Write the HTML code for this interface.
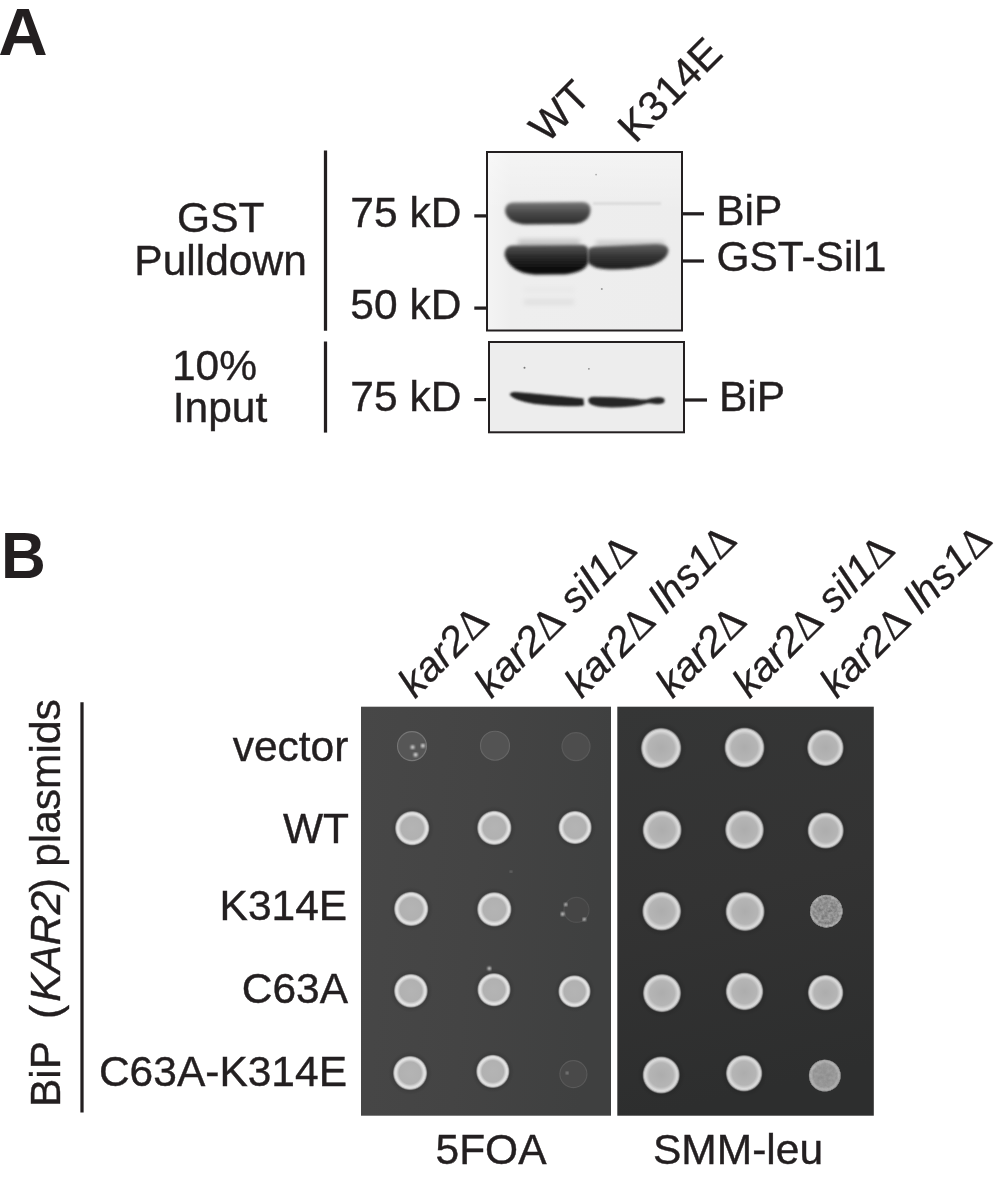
<!DOCTYPE html>
<html><head><meta charset="utf-8"><title>Figure</title>
<style>
html,body{margin:0;padding:0;background:#fff;}
body{width:1004px;height:1179px;overflow:hidden;}
svg{display:block;}
text{font-family:"Liberation Sans",sans-serif;font-size:42.5px;fill:#231f20;stroke:#231f20;stroke-width:0.4px;}
.b{font-weight:bold;font-size:64px;stroke:none;}
.i{font-style:italic;}
.r{font-size:41.5px;stroke-width:0.3px;}
.d{font-family:"Liberation Serif",serif;font-style:normal;font-size:42px;}
.ln{stroke:#231f20;stroke-width:3.25;}
</style></head><body>
<svg width="1004" height="1179" viewBox="0 0 1004 1179">
<rect width="1004" height="1179" fill="#fff"/>
<!-- PANEL A -->
<text class="b" transform="translate(-1.8,54.7) scale(1.07,1.03)">A</text>
<text text-anchor="middle" x="220.8" y="232">GST</text>
<text text-anchor="middle" x="220.6" y="274.8">Pulldown</text>
<text text-anchor="middle" x="214.5" y="379.8">10%</text>
<text text-anchor="middle" x="220" y="422.2">Input</text>
<line class="ln" x1="325.5" y1="150.4" x2="325.5" y2="330.8"/>
<line class="ln" x1="325.5" y1="341.5" x2="325.5" y2="432.6"/>
<text x="350.3" y="227.1">75 kD</text>
<text x="350.3" y="318.5">50 kD</text>
<text x="350.3" y="410.8">75 kD</text>
<line class="ln" x1="474.3" y1="215.9" x2="486" y2="215.9"/>
<line class="ln" x1="474.3" y1="308.1" x2="486" y2="308.1"/>
<line class="ln" x1="474.3" y1="399.6" x2="486" y2="399.6"/>
<line class="ln" x1="683" y1="213.8" x2="704" y2="213.8"/>
<line class="ln" x1="683" y1="261" x2="704" y2="261"/>
<line class="ln" x1="685" y1="400" x2="707" y2="400"/>
<text x="716.2" y="224.6">BiP</text>
<text x="716.4" y="271.4">GST-Sil1</text>
<text x="719" y="411.1">BiP</text>
<text class="r" style="font-size:42px" transform="translate(546.8,144.4) rotate(-45)">WT</text>
<text class="r" style="font-size:42px" transform="translate(635.3,144.4) rotate(-45)">K314E</text>
<!-- gels -->
<defs>
<filter id="bl1" x="-20%" y="-50%" width="140%" height="200%"><feGaussianBlur stdDeviation="1.4"/></filter>
<filter id="bl2" x="-20%" y="-80%" width="140%" height="260%"><feGaussianBlur stdDeviation="2.5"/></filter>
<filter id="bl3" x="-20%" y="-80%" width="140%" height="260%"><feGaussianBlur stdDeviation="0.9"/></filter>
<linearGradient id="gb1" x1="0" y1="0" x2="0" y2="1"><stop offset="0" stop-color="#787878"/><stop offset="0.45" stop-color="#4a4a4a"/><stop offset="1" stop-color="#2c2c2c"/></linearGradient>
<linearGradient id="gb2" x1="0" y1="0" x2="0" y2="1"><stop offset="0" stop-color="#555"/><stop offset="0.4" stop-color="#2a2a2a"/><stop offset="0.8" stop-color="#0c0c0c"/><stop offset="1" stop-color="#161616"/></linearGradient>
<linearGradient id="gb3" x1="0" y1="0" x2="0" y2="1"><stop offset="0" stop-color="#606060"/><stop offset="0.5" stop-color="#333"/><stop offset="1" stop-color="#1c1c1c"/></linearGradient>
<linearGradient id="gbg1" x1="0" y1="0" x2="1" y2="0"><stop offset="0" stop-color="#f4f4f4"/><stop offset="0.12" stop-color="#eeeeee"/><stop offset="1" stop-color="#ededed"/></linearGradient>
<linearGradient id="gtop" x1="0" y1="0" x2="0" y2="1"><stop offset="0" stop-color="#fff" stop-opacity="0.35"/><stop offset="1" stop-color="#fff" stop-opacity="0"/></linearGradient>
<clipPath id="c1"><rect x="487" y="152" width="195" height="178.5"/></clipPath>
<clipPath id="c2"><rect x="489" y="342" width="195" height="90.3"/></clipPath>
</defs>
<rect x="487" y="152" width="195" height="178.5" fill="url(#gbg1)"/>
<g clip-path="url(#c1)">
<rect x="487" y="152" width="195" height="60" fill="url(#gtop)"/>
<rect x="518" y="239.5" width="62" height="8" fill="#c2c2c2" filter="url(#bl2)"/>
<rect x="596" y="241" width="68" height="5" fill="#c4c4c4" filter="url(#bl2)"/>
<rect x="524" y="287.5" width="50" height="5" fill="#e8e8e8" filter="url(#bl2)"/>
<rect x="524" y="299.5" width="50" height="5" fill="#dedede" filter="url(#bl2)"/>
<rect x="593" y="202.2" width="68" height="2.6" fill="#d9d9d9" filter="url(#bl3)"/>
<path d="M505,211 Q505,203 513,202.5 L583,202 Q590.5,202.5 590.5,210 Q590,222 575,224 L525,224.5 Q507,223 505,211 Z" fill="url(#gb1)" filter="url(#bl1)"/>
<path d="M504.5,255 Q504.5,246 512,245.5 L583,245 Q588.5,245.5 588.5,252 L588.5,262 Q586,272 565,274.5 L535,274.8 Q510,273 504.5,255 Z" fill="url(#gb2)" filter="url(#bl1)"/>
<path d="M588,250 Q589,247 595,246.5 L655,244 Q668,243.5 668.5,250 Q668,260 650,266 Q630,270 610,269.5 Q592,269 588,262 Z" fill="url(#gb3)" filter="url(#bl1)"/>
<circle cx="596.1" cy="174.6" r="0.9" fill="#aaa"/><circle cx="601.8" cy="289" r="1" fill="#999"/>
</g>
<rect x="487" y="152" width="195" height="178.5" fill="none" stroke="#231f20" stroke-width="2"/>
<rect x="489" y="342" width="195" height="90.3" fill="#ededed"/>
<g clip-path="url(#c2)">
<path d="M509.6,394.6 Q511,391.6 515.5,392 Q530,393 545.7,394.8 Q565,396.5 583.5,398.6 L584,405.4 Q576,406.6 567.6,406.3 Q550,406 534.8,404 Q524,402.5 517,399.6 Q511,397 509.6,394.6 Z" fill="#222" filter="url(#bl3)"/>
<path d="M588.3,399.3 Q589.5,396.6 594,396.8 Q615,397 633.4,398.4 Q642,399.6 646.5,399.6 Q651,398 655.3,397.5 Q661,397 664,398.4 Q665.5,401 663.5,403 Q661,404.6 655,404 Q650,403 646.5,403.5 Q640,405.5 633.4,406.2 Q615,408 602.7,407.1 Q592,406 589.2,403 Q588,401 588.3,399.3 Z" fill="#262626" filter="url(#bl3)"/>
<circle cx="524.5" cy="367.7" r="1" fill="#777"/><circle cx="588.9" cy="368.8" r="0.9" fill="#8a8a8a"/>
</g>
<rect x="489" y="342" width="195" height="90.3" fill="none" stroke="#231f20" stroke-width="2"/>
<!-- PANEL B -->
<text class="b" transform="translate(1,577.9) scale(0.97,1.01)">B</text>
<line class="ln" x1="82" y1="702.2" x2="82" y2="1112.4"/>
<text transform="translate(59.9,1107) rotate(-90)" xml:space="preserve">BiP  <tspan dx="-1">(</tspan><tspan class="i" dx="3">KAR2</tspan><tspan dx="-1.5">)</tspan><tspan dx="-0.5"> plasmids</tspan></text>
<text text-anchor="end" x="348.4" y="760.7">vector</text>
<text text-anchor="end" x="349" y="842.9">WT</text>
<text text-anchor="end" x="347.2" y="920">K314E</text>
<text text-anchor="end" x="348" y="1002.6">C63A</text>
<text text-anchor="end" x="347" y="1085.6">C63A-K314E</text>
<!--PLATES-->
<defs>
<linearGradient id="pl1" x1="0" y1="0" x2="1" y2="0.15"><stop offset="0" stop-color="#474747"/><stop offset="0.5" stop-color="#444444"/><stop offset="1" stop-color="#3f4040"/></linearGradient>
<linearGradient id="pl2" x1="0" y1="0" x2="0.15" y2="1"><stop offset="0" stop-color="#353636"/><stop offset="0.5" stop-color="#333333"/><stop offset="1" stop-color="#2d2e2e"/></linearGradient>
<radialGradient id="colA"><stop offset="0" stop-color="#b4b4b4"/><stop offset="0.62" stop-color="#b1b1b1"/><stop offset="0.71" stop-color="#cccccc"/><stop offset="0.79" stop-color="#e3e3e3"/><stop offset="0.86" stop-color="#dadada"/><stop offset="0.915" stop-color="#a8a8a8" stop-opacity="0.95"/><stop offset="0.96" stop-color="#666" stop-opacity="0.6"/><stop offset="1" stop-color="#333" stop-opacity="0"/></radialGradient>
<radialGradient id="colB"><stop offset="0" stop-color="#adadad"/><stop offset="0.62" stop-color="#b5b5b5"/><stop offset="0.72" stop-color="#c8c8c8"/><stop offset="0.8" stop-color="#dadada"/><stop offset="0.865" stop-color="#cecece"/><stop offset="0.92" stop-color="#939393" stop-opacity="0.95"/><stop offset="0.96" stop-color="#555" stop-opacity="0.55"/><stop offset="1" stop-color="#2a2a2a" stop-opacity="0"/></radialGradient>
<radialGradient id="halo"><stop offset="0.6" stop-color="#000" stop-opacity="0.22"/><stop offset="1" stop-color="#000" stop-opacity="0"/></radialGradient>
<radialGradient id="colC"><stop offset="0" stop-color="#8c8c8c"/><stop offset="0.75" stop-color="#909090"/><stop offset="0.9" stop-color="#a6a6a6"/><stop offset="0.96" stop-color="#8a8a8a" stop-opacity="0.9"/><stop offset="1" stop-color="#333" stop-opacity="0"/></radialGradient>
<filter id="grain" x="-5%" y="-5%" width="110%" height="110%" color-interpolation-filters="sRGB"><feTurbulence type="fractalNoise" baseFrequency="0.32" numOctaves="2" seed="7" result="n"/><feColorMatrix in="n" type="matrix" values="1 0 0 0 0 1 0 0 0 0 1 0 0 0 0 0 0 0 0 1" result="g"/><feComposite in="SourceGraphic" in2="g" operator="arithmetic" k1="0" k2="1" k3="0.3" k4="-0.15" result="m"/><feComposite in="m" in2="SourceGraphic" operator="in"/></filter>
<radialGradient id="colD"><stop offset="0" stop-color="#939393"/><stop offset="0.7" stop-color="#989898"/><stop offset="0.83" stop-color="#b0b0b0"/><stop offset="0.91" stop-color="#a4a4a4"/><stop offset="0.96" stop-color="#808080" stop-opacity="0.85"/><stop offset="1" stop-color="#333" stop-opacity="0"/></radialGradient>
<filter id="grain2" x="-5%" y="-5%" width="110%" height="110%" color-interpolation-filters="sRGB"><feTurbulence type="fractalNoise" baseFrequency="0.3" numOctaves="2" seed="11" result="n"/><feColorMatrix in="n" type="matrix" values="1 0 0 0 0 1 0 0 0 0 1 0 0 0 0 0 0 0 0 1" result="g"/><feComposite in="SourceGraphic" in2="g" operator="arithmetic" k1="0" k2="1" k3="0.1" k4="-0.05" result="m"/><feComposite in="m" in2="SourceGraphic" operator="in"/></filter>
<filter id="sb2" x="-20%" y="-20%" width="140%" height="140%"><feGaussianBlur stdDeviation="0.6"/></filter>
<filter id="sb" x="-20%" y="-20%" width="140%" height="140%"><feGaussianBlur stdDeviation="0.9"/></filter>
</defs>
<rect x="361" y="706.7" width="250" height="409" fill="url(#pl1)"/>
<rect x="617.3" y="706.7" width="256.5" height="409" fill="url(#pl2)"/>
<g>
<circle cx="412.0" cy="746.1" r="14.5" fill="#575757" stroke="#767676" stroke-width="1.1" filter="url(#sb2)"/>
<circle cx="495.0" cy="745.7" r="14.5" fill="#535353" stroke="#666666" stroke-width="1.1" filter="url(#sb2)"/>
<circle cx="576.0" cy="746.6" r="14.0" fill="#4e4e4e" stroke="#5a5a5a" stroke-width="1.1" filter="url(#sb2)"/>
<circle cx="576.5" cy="909.9" r="12.5" fill="#444545" stroke="#515151" stroke-width="1.1" filter="url(#sb2)"/>
<circle cx="573.4" cy="1074.1" r="13.5" fill="#484848" stroke="#5a5a5a" stroke-width="1.1" filter="url(#sb2)"/>
<circle cx="412.2" cy="828.2" r="22.1" fill="url(#halo)"/>
<circle cx="412.2" cy="828.2" r="18.0" fill="url(#colA)"/>
<circle cx="494.3" cy="827.9" r="22.1" fill="url(#halo)"/>
<circle cx="494.3" cy="827.9" r="18.0" fill="url(#colA)"/>
<circle cx="575.1" cy="827.5" r="21.3" fill="url(#halo)"/>
<circle cx="575.1" cy="827.5" r="17.4" fill="url(#colA)"/>
<circle cx="411.2" cy="908.9" r="22.1" fill="url(#halo)"/>
<circle cx="411.2" cy="908.9" r="18.0" fill="url(#colA)"/>
<circle cx="494.3" cy="909.3" r="22.1" fill="url(#halo)"/>
<circle cx="494.3" cy="909.3" r="18.0" fill="url(#colA)"/>
<circle cx="410.9" cy="990.8" r="21.7" fill="url(#halo)"/>
<circle cx="410.9" cy="990.8" r="17.7" fill="url(#colA)"/>
<circle cx="494.0" cy="989.7" r="21.3" fill="url(#halo)"/>
<circle cx="494.0" cy="989.7" r="17.4" fill="url(#colA)"/>
<circle cx="574.5" cy="991.4" r="20.7" fill="url(#halo)"/>
<circle cx="574.5" cy="991.4" r="16.9" fill="url(#colA)"/>
<circle cx="410.1" cy="1073.0" r="22.0" fill="url(#halo)"/>
<circle cx="410.1" cy="1073.0" r="17.9" fill="url(#colA)"/>
<circle cx="492.8" cy="1071.4" r="21.3" fill="url(#halo)"/>
<circle cx="492.8" cy="1071.4" r="17.4" fill="url(#colA)"/>
<circle cx="412.6" cy="747.2" r="1.9" fill="#dcdcdc" filter="url(#sb)"/>
<circle cx="422.9" cy="745.8" r="2.0" fill="#dcdcdc" filter="url(#sb)"/>
<circle cx="415.6" cy="754.8" r="2.0" fill="#dcdcdc" filter="url(#sb)"/>
<circle cx="565.8" cy="904.4" r="1.5" fill="#dcdcdc" filter="url(#sb)"/>
<circle cx="562.6" cy="914.1" r="1.8" fill="#dcdcdc" filter="url(#sb)"/>
<circle cx="584.3" cy="919.3" r="1.5" fill="#dcdcdc" filter="url(#sb)"/>
<circle cx="489.3" cy="968.5" r="1.8" fill="#dcdcdc" filter="url(#sb)"/>
<circle cx="567.2" cy="1073" r="1.0" fill="#dcdcdc" filter="url(#sb)"/>
<circle cx="511" cy="871.8" r="0.8" fill="#dcdcdc" filter="url(#sb)"/>
<circle cx="661.1" cy="748.1" r="26.0" fill="url(#halo)"/>
<circle cx="661.1" cy="748.1" r="21.2" fill="url(#colB)"/>
<circle cx="744.5" cy="747.6" r="25.7" fill="url(#halo)"/>
<circle cx="744.5" cy="747.6" r="21.0" fill="url(#colB)"/>
<circle cx="825.4" cy="747.8" r="23.5" fill="url(#halo)"/>
<circle cx="825.4" cy="747.8" r="19.2" fill="url(#colB)"/>
<circle cx="662.1" cy="830.0" r="25.1" fill="url(#halo)"/>
<circle cx="662.1" cy="830.0" r="20.5" fill="url(#colB)"/>
<circle cx="744.5" cy="829.8" r="25.0" fill="url(#halo)"/>
<circle cx="744.5" cy="829.8" r="20.4" fill="url(#colB)"/>
<circle cx="825.7" cy="830.5" r="23.3" fill="url(#halo)"/>
<circle cx="825.7" cy="830.5" r="19.0" fill="url(#colB)"/>
<circle cx="661.7" cy="911.2" r="25.0" fill="url(#halo)"/>
<circle cx="661.7" cy="911.2" r="20.4" fill="url(#colB)"/>
<circle cx="745.1" cy="911.5" r="25.1" fill="url(#halo)"/>
<circle cx="745.1" cy="911.5" r="20.5" fill="url(#colB)"/>
<circle cx="662.0" cy="993.1" r="24.6" fill="url(#halo)"/>
<circle cx="662.0" cy="993.1" r="20.0" fill="url(#colB)"/>
<circle cx="744.5" cy="991.4" r="24.2" fill="url(#halo)"/>
<circle cx="744.5" cy="991.4" r="19.7" fill="url(#colB)"/>
<circle cx="825.6" cy="992.6" r="22.8" fill="url(#halo)"/>
<circle cx="825.6" cy="992.6" r="18.6" fill="url(#colB)"/>
<circle cx="661.2" cy="1075.0" r="23.9" fill="url(#halo)"/>
<circle cx="661.2" cy="1075.0" r="19.5" fill="url(#colB)"/>
<circle cx="744.1" cy="1073.3" r="23.4" fill="url(#halo)"/>
<circle cx="744.1" cy="1073.3" r="19.1" fill="url(#colB)"/>
<circle cx="826.3" cy="911.2" r="17.1" fill="url(#colC)" filter="url(#grain)"/>
<circle cx="824.8" cy="1075.6" r="16.7" fill="url(#colD)" filter="url(#grain2)"/>
</g>
<!--/PLATES-->
<text class="r" transform="translate(415,699.4) rotate(-45)" xml:space="preserve"><tspan class="i">kar2</tspan><tspan class="d">Δ</tspan></text>
<text class="r" transform="translate(491.3,699.4) rotate(-45)" xml:space="preserve"><tspan class="i">kar2</tspan><tspan class="d">Δ</tspan><tspan class="i"> sil1</tspan><tspan class="d">Δ</tspan></text>
<text class="r" transform="translate(581.4,699.4) rotate(-45)" xml:space="preserve"><tspan class="i">kar2</tspan><tspan class="d">Δ</tspan><tspan class="i"> lhs1</tspan><tspan class="d">Δ</tspan></text>
<text class="r" transform="translate(672.5,699.4) rotate(-45)" xml:space="preserve"><tspan class="i">kar2</tspan><tspan class="d">Δ</tspan></text>
<text class="r" transform="translate(749.4,699.4) rotate(-45)" xml:space="preserve"><tspan class="i">kar2</tspan><tspan class="d">Δ</tspan><tspan class="i"> sil1</tspan><tspan class="d">Δ</tspan></text>
<text class="r" transform="translate(836.7,699.4) rotate(-45)" xml:space="preserve"><tspan class="i">kar2</tspan><tspan class="d">Δ</tspan><tspan class="i"> lhs1</tspan><tspan class="d">Δ</tspan></text>
<text x="435.5" y="1164.3">5FOA</text>
<text x="653" y="1164.3">SMM-leu</text>
</svg>
</body></html>
